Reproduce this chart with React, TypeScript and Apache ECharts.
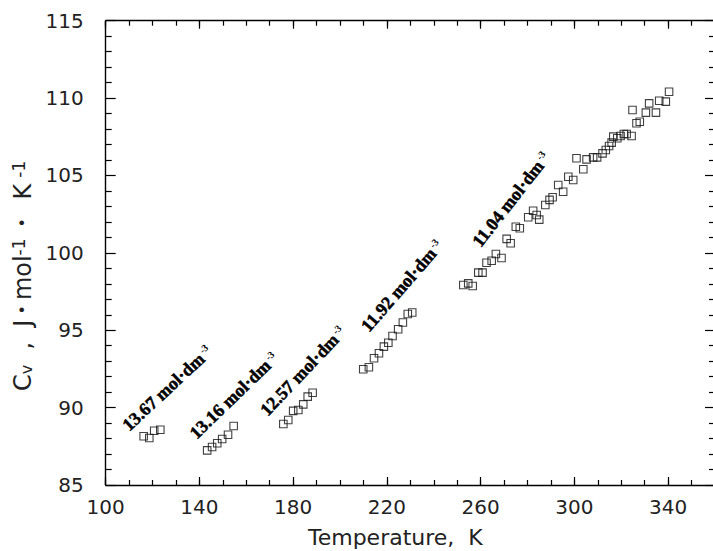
import React, { useEffect, useRef } from "react";
import * as echarts from "echarts";

// Axis ranges / ticks
const xMin = 100;
const xMax = 360;
const xMajor = 40;
const xMinor = 10;
const yMin = 85;
const yMax = 115;
const yMajor = 5;

// Series: Temperature (K) and Cv (J·mol-1·K-1) per density
const t1367 = [116.2, 118.6, 120.7, 123.3];
const c1367 = [88.15, 88.04, 88.51, 88.57];

const t1316 = [143.3, 145.4, 147.6, 149.7, 152.2, 154.6];
const c1316 = [87.24, 87.46, 87.7, 87.97, 88.25, 88.81];

const t1257 = [175.8, 177.9, 180.0, 182.2, 184.3, 186.2, 188.3];
const c1257 = [88.94, 89.2, 89.79, 89.85, 90.21, 90.71, 90.96];

const t1192 = [209.9, 212.3, 214.5, 216.6, 218.7, 220.6, 222.4, 224.8, 226.8, 228.9, 230.8];
const c1192 = [92.48, 92.61, 93.19, 93.51, 93.94, 94.19, 94.63, 95.06, 95.5, 96.05, 96.15];

const t1104 = [
  252.6, 254.7, 256.6, 259.0, 260.8, 262.5, 264.7, 266.5, 268.9, 271.1, 272.8, 275.0,
  276.7, 280.3, 282.4, 283.9, 285.0, 287.6, 289.4, 290.7, 293.1, 295.2, 297.4, 299.5,
  300.9, 303.8, 305.2, 308.0, 309.7, 312.0, 313.4, 314.8, 315.9, 316.6, 318.3, 319.7,
  321.1, 322.3, 324.4, 326.5, 327.9, 324.8, 330.5, 334.8, 331.9, 336.2, 339.0, 340.4,
];
const c1104 = [
  97.92, 98.03, 97.86, 98.72, 98.72, 99.36, 99.49, 99.93, 99.67, 100.9, 100.62, 101.69,
  101.59, 102.3, 102.72, 102.45, 102.15, 103.09, 103.42, 103.59, 104.38, 103.95, 104.92, 104.71,
  106.11, 105.4, 106.04, 106.17, 106.17, 106.43, 106.65, 106.9, 107.12, 107.51, 107.4, 107.55,
  107.68, 107.68, 107.55, 108.37, 108.47, 109.23, 109.06, 109.06, 109.66, 109.83, 109.77, 110.41,
];

// Density labels: text, anchor (T, Cv) of the text start, angle in degrees
const labelTexts = ["13.67 mol·dm", "13.16 mol·dm", "12.57 mol·dm", "11.92 mol·dm", "11.04 mol·dm"];
const labelT = [110.0, 138.8, 169.1, 212.4, 260.0];
const labelCv = [88.42, 87.91, 89.39, 94.82, 100.29];
const labelAngle = [43, 44, 46.5, 49, 52];

const AXIS_FONT = "DejaVu Sans";
const LABEL_FONT = "Liberation Serif";

function pairs(t: number[], c: number[]) {
  return t.map((v, i) => [v, c[i]]);
}

export default function App() {
  const ref = useRef<HTMLDivElement>(null);

  useEffect(() => {
    if (!ref.current) return;
    const chart = echarts.init(ref.current, undefined, { renderer: "svg" });

    const lineStyle = { color: "#000", width: 1.4 };
    const tickStyle = { color: "#000", width: 1.2 };
    const txt = { fontFamily: AXIS_FONT, color: "#222" };

    const scatter = (t: number[], c: number[]) => ({
      type: "scatter",
      xAxisIndex: 0,
      yAxisIndex: 0,
      data: pairs(t, c),
      symbol: "rect",
      symbolSize: 7.5,
      silent: true,
      itemStyle: { color: "rgba(0,0,0,0)", borderColor: "#111", borderWidth: 1.1 },
      emphasis: { disabled: true },
    });

    const baseX = {
      type: "value",
      min: xMin,
      max: xMax,
      splitLine: { show: false },
      axisLabel: { show: false },
    };

    chart.setOption({
      animation: false,
      grid: {
        left: 105.7,
        top: 20.7,
        width: 609.3,
        height: 464.3,
        containLabel: false,
        outerBoundsMode: "none",
      },
      xAxis: [
        {
          ...baseX,
          position: "bottom",
          interval: xMajor,
          axisLine: { show: true, onZero: false, lineStyle },
          axisTick: { show: true, inside: true, length: 8, lineStyle: tickStyle },
          axisLabel: {
            show: true,
            showMaxLabel: false,
            margin: 12,
            fontSize: 20,
            ...txt,
          },
          name: "Temperature,  K",
          nameLocation: "middle",
          nameGap: 41,
          nameTextStyle: {
            fontSize: 22,
            ...txt,
            padding: [0, 30, 0, 0],
          },
        },
        {
          ...baseX,
          position: "bottom",
          interval: xMinor,
          axisLine: { show: false, onZero: false },
          axisTick: { show: true, inside: true, length: 5, lineStyle: tickStyle },
        },
        {
          ...baseX,
          position: "top",
          interval: xMinor,
          axisLine: { show: true, onZero: false, lineStyle },
          axisTick: { show: true, inside: true, length: 5, lineStyle: tickStyle },
        },
        {
          ...baseX,
          position: "top",
          interval: xMajor,
          axisLine: { show: false, onZero: false },
          axisTick: { show: true, inside: true, length: 8, lineStyle: tickStyle },
        },
      ],
      yAxis: [
        {
          type: "value",
          position: "left",
          min: yMin,
          max: yMax,
          interval: yMajor,
          splitLine: { show: false },
          axisLine: { show: true, onZero: false, lineStyle },
          axisTick: { show: true, inside: true, length: 10, lineStyle: tickStyle },
          minorTick: { show: true, splitNumber: 5, length: 6, lineStyle: tickStyle },
          axisLabel: { margin: 22, fontSize: 20, ...txt },
          name: "{t|C}{sub|v}{t|  ,  J}{d|•}{t|mol}{sup|-1}{d2|•}{t| K}{sup2|-1}",
          nameLocation: "middle",
          nameRotate: 90,
          nameGap: 70,
          nameTextStyle: {
            fontSize: 24,
            ...txt,
            padding: [0, 46, 0, 0],
            rich: {
              t: { fontSize: 24, ...txt },
              sub: { fontSize: 16, ...txt, verticalAlign: "bottom" },
              sup: { fontSize: 17, ...txt, verticalAlign: "top" },
              sup2: { fontSize: 17, ...txt, verticalAlign: "top", padding: [0, 0, 0, 6] },
              d: { fontSize: 16, ...txt, padding: [0, 5, 0, 5] },
              d2: { fontSize: 16, ...txt, padding: [0, 11, 0, 11] },
            },
          },
        },
        {
          type: "value",
          position: "right",
          min: yMin,
          max: yMax,
          interval: yMajor,
          splitLine: { show: false },
          axisLine: { show: false, onZero: false },
          axisTick: { show: true, inside: true, length: 10, lineStyle: tickStyle },
          minorTick: { show: true, splitNumber: 5, length: 6, lineStyle: tickStyle },
          axisLabel: { show: false },
        },
      ],
      series: [
        scatter(t1367, c1367),
        scatter(t1316, c1316),
        scatter(t1257, c1257),
        scatter(t1192, c1192),
        scatter(t1104, c1104),
      ],
    });

    const graphics = labelTexts.map((label, i) => {
      const p = chart.convertToPixel({ gridIndex: 0 }, [labelT[i], labelCv[i]]) as number[];
      return {
        type: "group",
        x: p[0],
        y: p[1],
        rotation: (labelAngle[i] * Math.PI) / 180,
        children: [
          {
            type: "text",
            x: 0,
            y: 3,
            style: {
              text: `{m|${label}}{s|-3}`,
              align: "left",
              verticalAlign: "bottom",
              fill: "#000",
              rich: {
                m: {
                  fontSize: 18,
                  fontWeight: "bold",
                  fontFamily: LABEL_FONT,
                  fill: "#000",
                  stroke: "#000",
                  lineWidth: 0.5,
                },
                s: {
                  fontSize: 10,
                  fontWeight: "bold",
                  fontFamily: LABEL_FONT,
                  fill: "#000",
                  verticalAlign: "top",
                  padding: [0, 0, 0, 2],
                },
              },
            },
          },
        ],
      };
    });
    chart.setOption({ graphic: graphics });

    return () => chart.dispose();
  }, []);

  return (
    <div
      ref={ref}
      style={{ position: "absolute", left: 0, top: 0, width: 713, height: 551, background: "#fff" }}
    />
  );
}
